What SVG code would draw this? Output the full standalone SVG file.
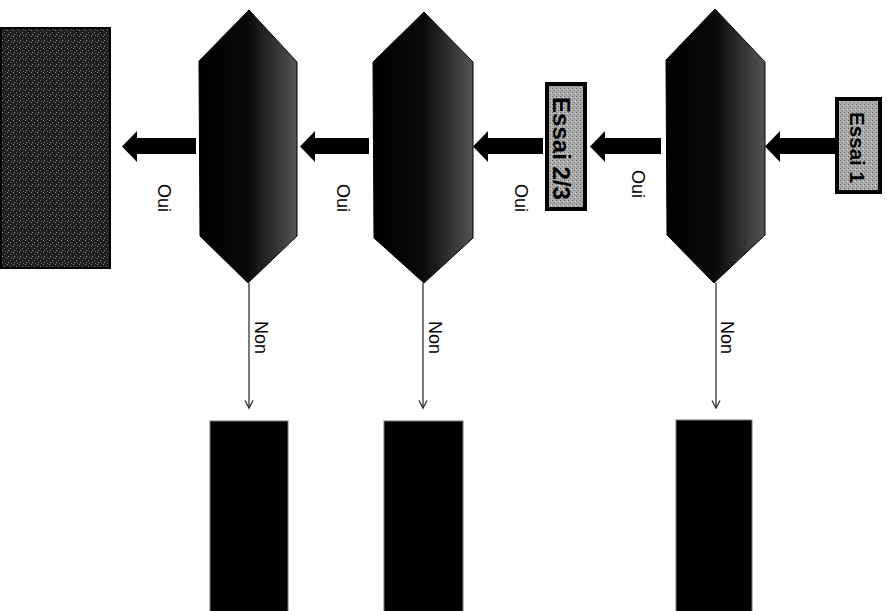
<svg xmlns="http://www.w3.org/2000/svg" width="887" height="611" viewBox="0 0 887 611">
<style>
.hex{fill:url(#hg);stroke:#000;stroke-width:1}
.lbl{font-family:"Liberation Sans",Arial,sans-serif;font-size:18px;fill:#000}
.essai{font-family:"Liberation Sans",Arial,sans-serif;font-weight:bold;fill:#000}
.ebox{stroke:#000;stroke-width:4}
.fat{fill:#000}
.thin{stroke:#333;stroke-width:1.3;fill:none}
.end{fill:#000;stroke:#777;stroke-width:1}
</style>
<defs>
<linearGradient id="hg" x1="0" y1="0" x2="1" y2="0">
<stop offset="0" stop-color="#000"/>
<stop offset="0.5" stop-color="#0a0a0a"/>
<stop offset="1" stop-color="#555"/>
</linearGradient>
<pattern id="noise" width="6" height="6" patternUnits="userSpaceOnUse">
<rect width="6" height="6" fill="#1e1e1e"/>
<rect x="1" y="0" width="1" height="1" fill="#888"/>
<rect x="4" y="2" width="1" height="1" fill="#777"/>
<rect x="2" y="4" width="1" height="1" fill="#999"/>
<rect x="5" y="5" width="1" height="1" fill="#666"/>
</pattern>
<pattern id="enoise" width="4" height="4" patternUnits="userSpaceOnUse">
<rect width="4" height="4" fill="#aaa"/>
<rect x="0" y="0" width="1" height="1" fill="#666"/>
<rect x="2" y="2" width="1" height="1" fill="#777"/>
<rect x="3" y="1" width="1" height="1" fill="#ddd"/>
</pattern>
<marker id="v" markerWidth="12" markerHeight="12" refX="9" refY="6" orient="auto" markerUnits="userSpaceOnUse" viewBox="0 0 12 12">
<path d="M1.5,2 L9,6 L1.5,10" fill="none" stroke="#333" stroke-width="1.3"/>
</marker>
</defs>

<g id="result">
<rect x="1" y="28" width="109" height="240" fill="url(#noise)" stroke="#000" stroke-width="2"/>
</g>

<g id="decision1">
<polygon class="hex" points="249,10 199,61 200,236 248,283 297,236 297,62"/>
</g>
<g id="decision2">
<polygon class="hex" points="424,12 373,62 374,238 424,283 473,238 473,62"/>
</g>
<g id="decision3">
<polygon class="hex" points="715,9 666,60 667,235 714,283 765,235 765,62"/>
</g>

<g id="essai23">
<rect class="ebox" x="547" y="84" width="38" height="125" style="fill:url(#enoise)"/>
<text class="essai" font-size="24" transform="translate(553,97) rotate(90)" textLength="103" lengthAdjust="spacingAndGlyphs">Essai 2/3</text>
</g>
<g id="essai1">
<rect class="ebox" x="837" y="99" width="43" height="93" style="fill:url(#enoise)"/>
<text class="essai" font-size="21" transform="translate(850,112) rotate(90)" textLength="71" lengthAdjust="spacingAndGlyphs">Essai 1</text>
</g>

<g id="end1"><rect class="end" x="210" y="421" width="78" height="192"/></g>
<g id="end2"><rect class="end" x="384" y="421" width="79" height="192"/></g>
<g id="end3"><rect class="end" x="676" y="420" width="76" height="193"/></g>

<g id="connectors">
<polygon class="fat" points="196,138 137,138 137,131 122,146.5 137,162 137,154 196,154"/>
<polygon class="fat" points="369,138 315,138 315,131 300,146.5 315,162 315,154 369,154"/>
<polygon class="fat" points="543,138 488,138 488,131 473,146.5 488,162 488,154 543,154"/>
<polygon class="fat" points="661,138 605,138 605,131 590,146.5 605,162 605,154 661,154"/>
<polygon class="fat" points="835,138 780,138 780,131 765,146.5 780,162 780,154 835,154"/>
<line class="thin" x1="249" y1="283" x2="249" y2="408" marker-end="url(#v)"/>
<line class="thin" x1="423" y1="283" x2="423" y2="408" marker-end="url(#v)"/>
<line class="thin" x1="716" y1="283" x2="716" y2="408" marker-end="url(#v)"/>
<text class="lbl" transform="translate(158,184) rotate(90)">Oui</text>
<text class="lbl" transform="translate(337,184) rotate(90)">Oui</text>
<text class="lbl" transform="translate(515,184) rotate(90)">Oui</text>
<text class="lbl" transform="translate(632,170) rotate(90)">Oui</text>
<text class="lbl" transform="translate(255,321) rotate(90)">Non</text>
<text class="lbl" transform="translate(429,321) rotate(90)">Non</text>
<text class="lbl" transform="translate(721,321) rotate(90)">Non</text>
</g>
</svg>
